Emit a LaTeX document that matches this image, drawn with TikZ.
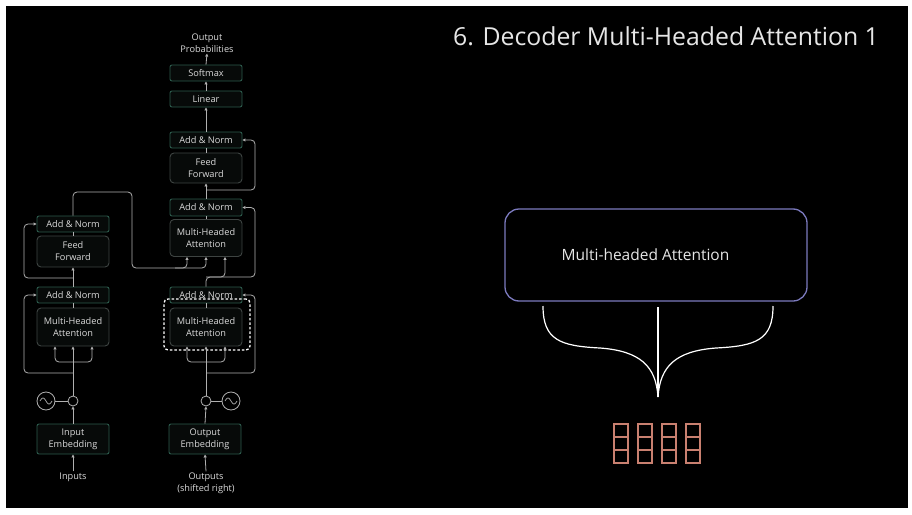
\documentclass[tikz,border=0pt]{standalone}
\usepackage{fontspec}
\setmainfont{Open Sans}
\usetikzlibrary{arrows.meta}
\definecolor{tealb}{HTML}{2C5A4C}
\definecolor{greyb}{HTML}{3E4442}
\definecolor{boxfill}{HTML}{070A09}
\definecolor{txt}{HTML}{DADADA}
\definecolor{ttl}{HTML}{E6E6E6}
\definecolor{linec}{HTML}{B0B0B0}
\definecolor{lav}{HTML}{7C7ABE}
\definecolor{salmon}{HTML}{C98070}
\begin{document}
\begin{tikzpicture}[x=1pt,y=-1pt,
  tbox/.style={draw=tealb, fill=boxfill, rounded corners=2pt, minimum width=72pt, text=txt,
    font=\fontsize{9.2}{12}\selectfont, inner sep=0pt, line width=0.9pt, align=center},
  gbox/.style={tbox, draw=greyb, rounded corners=4pt},
  conn/.style={draw=linec, line width=0.8pt, rounded corners=4pt},
  arr/.style={conn, -{Triangle[length=3pt,width=3pt]}},
  lbl/.style={text=txt, font=\fontsize{9.2}{12}\selectfont, inner sep=1pt, align=center},
  pcirc/.style={circle, draw=linec, line width=0.8pt, inner sep=0pt},
]
\fill[white] (0,0) rectangle (912,514);
\fill[black] (6,6) rectangle (908,508);
\useasboundingbox (0,0) rectangle (912,514);

% ---------------- decoder column ----------------
\node[lbl] (outprob) at (207,43) {Output\\Probabilities};
\node[tbox, minimum height=16pt] (softmax) at (206,73) {Softmax};
\node[tbox, minimum height=16pt] (linear) at (206,99) {Linear};
\node[tbox, minimum height=16pt] (dan3) at (206,140) {Add \& Norm};
\node[gbox, minimum height=30pt] (dff) at (206,168) {Feed\\Forward};
\node[tbox, minimum height=17pt] (dan2) at (206,207.5) {Add \& Norm};
\node[gbox, minimum height=37pt] (dmha2) at (206,238) {Multi-Headed\\Attention};
\node[tbox, minimum height=16pt] (dan1) at (206,295) {Add \& Norm};
\node[gbox, minimum height=38pt] (dmha1) at (206,327) {Multi-Headed\\Attention};
\node[tbox, minimum height=30pt] (oemb) at (205,439) {Output\\Embedding};
\node[lbl] (outs) at (206,483) {Outputs\\(shifted right)};
\node[pcirc, minimum size=10pt] (dsum) at (206,401) {};
\node[pcirc, minimum size=18pt] (dsine) at (231,401) {};
\node[draw=white, dash pattern=on 2.5pt off 2pt, line width=1.3pt, rounded corners=4pt,
  minimum width=86pt, minimum height=51pt] (dashbox) at (207,324.5) {};

% ---------------- encoder column ----------------
\node[tbox, minimum height=16pt] (ean2) at (73,224) {Add \& Norm};
\node[gbox, minimum height=31pt] (eff) at (73,251.5) {Feed\\Forward};
\node[tbox, minimum height=16pt] (ean1) at (73,295) {Add \& Norm};
\node[gbox, minimum height=38pt] (emha) at (73,327) {Multi-Headed\\Attention};
\node[tbox, minimum height=30pt] (iemb) at (73,439) {Input\\Embedding};
\node[lbl] (ins) at (73,477) {Inputs};
\node[pcirc, minimum size=10pt] (esum) at (73,401) {};
\node[pcirc, minimum size=18pt] (esine) at (46,401) {};

% sine glyphs
\draw[linec, line width=0.7pt, shift={(esine.center)}] plot[domain=-6:6, samples=25] (\x,{3*sin(\x*30)});
\draw[linec, line width=0.7pt, shift={(dsine.center)}] plot[domain=-6:6, samples=25] (\x,{3*sin(\x*30)});

% ---------------- encoder connectors ----------------
\draw[arr] (ins.north) -- (iemb.south);
\draw[arr] (iemb.north) -- (esum.south);
\draw[conn] (esine.east) -- (esum.west);
\coordinate (ej) at (73,362);
\coordinate (er1) at (73,373);
\draw[arr] (esum.north) -- (emha.south);
\draw[arr] (ej) -| ([xshift=-18pt]emha.south);
\draw[arr] (ej) -| ([xshift=19pt]emha.south);
\draw[arr] (er1) -- (24,373) -- (24,295) -- (ean1.west);
\draw[conn] (emha.north) -- (ean1.south);
\draw[arr] (ean1.north) -- (eff.south);
\coordinate (er2) at (73,278);
\draw[arr] (er2) -- (24,278) -- (24,224) -- (ean2.west);
\draw[conn] (eff.north) -- (ean2.south);
\draw[arr] (ean2.north) -- (73,192) -- (132,192) -- (132,268) -| ([xshift=-19pt]dmha2.south);
\coordinate (ek) at (175,268);
\draw[arr] (ek) -| (dmha2.south);

% ---------------- decoder connectors ----------------
\draw[arr] (outs.north) -- (oemb.south);
\draw[arr] (oemb.north) -- (dsum.south);
\draw[conn] (dsine.west) -- (dsum.east);
\coordinate (dj) at (206,362);
\coordinate (dr1) at (206,373);
\draw[arr] (dsum.north) -- (dmha1.south);
\draw[arr] (dj) -| ([xshift=-19pt]dmha1.south);
\draw[arr] (dj) -| ([xshift=19pt]dmha1.south);
\draw[arr] (dr1) -- (255,373) -- (255,295) -- (dan1.east);
\draw[conn] (dmha1.north) -- (dan1.south);
\coordinate (dq) at (206,277);
\draw[arr] (dan1.north) -- (dq) -| ([xshift=19pt]dmha2.south);
\draw[arr] (dq) -- (255,277) -- (255,207.5) -- (dan2.east);
\draw[conn] (dmha2.north) -- (dan2.south);
\draw[arr] (dan2.north) -- (dff.south);
\coordinate (dr3) at (206,190);
\draw[arr] (dr3) -- (255,190) -- (255,140) -- (dan3.east);
\draw[conn] (dff.north) -- (dan3.south);
\draw[arr] (dan3.north) -- (linear.south);
\draw[arr] (linear.north) -- (softmax.south);
\draw[arr] (softmax.north) -- (outprob.south);

% ---------------- right panel ----------------
\node[text=ttl, font=\fontsize{24.8}{28}\selectfont, inner sep=0pt] (title) at (666,36) {6. Decoder Multi-Headed Attention 1};
\node[draw=lav, line width=1.3pt, rounded corners=14pt, minimum width=302pt, minimum height=92pt] (mha) at (656,255) {};
\node[text=ttl, font=\fontsize{15.5}{18}\selectfont, inner sep=0pt] (mhatxt) at (645.5,255) {Multi-headed Attention};

\coordinate (bl) at (543,306);
\coordinate (bc) at (658,307);
\coordinate (br) at (773,306);
\coordinate (tip) at (658,397);
\draw[white, line width=1.2pt] (bl) .. controls (543,340) and (560,346) .. (600,348)
  .. controls (640,351) and (656,366) .. (tip);
\draw[white, line width=1.2pt] (br) .. controls (773,340) and (756,346) .. (716,348)
  .. controls (676,351) and (660,366) .. (tip);
\draw[white, line width=1.2pt] (bc) -- (tip);

% grid of vectors
\foreach \c in {0,1,2,3}{
  \foreach \r in {0,1,2}{
    \draw[salmon, line width=1.6pt] (614+24*\c,424+13*\r) rectangle (628+24*\c,437+13*\r);
  }
}
\end{tikzpicture}
\end{document}
